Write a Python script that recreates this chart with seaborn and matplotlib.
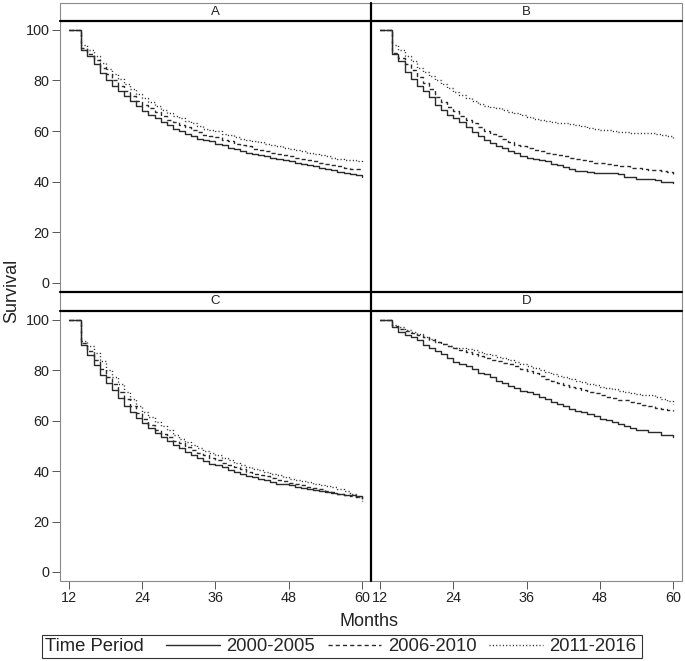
import pandas as pd
import matplotlib.pyplot as plt
import seaborn as sns
from matplotlib.lines import Line2D
from matplotlib.patches import Rectangle

# Kaplan-Meier survival, months 12..60
months = list(range(12, 61))
periods = ['2000-2005', '2006-2010', '2011-2016']
panels = ['A', 'B', 'C', 'D']

A_2000 = [100, 100, 92, 89.5, 86.5, 83, 80, 78, 76, 74, 72, 70, 68, 66.5, 65, 63.5, 62.5, 61, 60, 59, 58, 57, 56.5, 56, 55,
          54.5, 53.5, 53, 52, 51.5, 51, 50.5, 50, 49.5, 49, 48.5, 48, 47.5, 47, 46.5, 46, 45.5, 45, 44.5, 44, 43.5, 43, 42.5, 42]
A_2006 = [100, 100, 93, 90.5, 88, 85, 82.5, 80, 78, 76, 74, 72, 70.5, 69, 67.5, 66, 64.5, 63.5, 62.5, 61.5, 60.5, 59.5, 58.5, 58, 57.5,
          56.5, 56, 55, 54.5, 54, 53, 52.5, 52, 51.5, 51, 50.5, 50, 49.5, 49, 48.5, 48, 47.5, 47, 46.5, 46, 45.5, 45.2, 45, 44.5]
A_2011 = [100, 100, 94, 92, 89.5, 87, 84.5, 82.5, 80.5, 78.5, 76.5, 74.5, 73, 71.5, 70, 68.5, 67, 66, 65, 64, 63, 62, 61, 60.5, 60,
          59, 58.5, 57.5, 57, 56.5, 56, 55.5, 55, 54.5, 54, 53.5, 53, 52.5, 52, 51.5, 51, 50.5, 50, 49.5, 49, 48.5, 48.5, 48, 47.5]
B_2000 = [100, 100, 90.5, 87.5, 83.5, 80.5, 78, 76, 73.5, 70.5, 68.5, 66.5, 65, 63.5, 61.5, 59.5, 58, 56.5, 55.2, 54.2, 53.2, 52.3, 51.3, 50.3, 49.5,
          49, 48.5, 48, 47, 46.5, 45.7, 45, 44.3, 44.3, 44, 43.5, 43.4, 43.4, 43.4, 43, 42, 42, 41.1, 41.1, 41, 40.5, 40, 40, 39.4]
B_2006 = [100, 100, 91, 89, 86.5, 84, 81.5, 79, 76.5, 73.5, 71.5, 69.5, 68, 66, 64.5, 63, 61.5, 60, 59, 58, 57, 55.5, 54.5, 54, 53.2,
          52.5, 52, 51.5, 51, 50.5, 50, 49.5, 49, 48.5, 48, 47.5, 47.3, 47, 46.6, 46.3, 46, 45.6, 45.3, 45, 44.7, 44.5, 44.3, 43.8, 43]
B_2011 = [100, 100, 94, 92, 89.5, 87.5, 85, 83.3, 81.6, 80.2, 78.5, 77, 75.6, 74.3, 73, 72, 70.8, 70.1, 69.7, 69.3, 68.4, 67.7, 67.1, 66.4, 65.7,
          64.8, 64.2, 63.8, 63.5, 63.3, 63.1, 62.8, 62.5, 62, 61.4, 61, 60.5, 60.3, 60.1, 59.8, 59.6, 59.4, 59.2, 59.2, 59.2, 58.8, 58.5, 58, 57.2]
C_2000 = [100, 100, 90, 86, 82, 78, 75, 72, 69, 66, 63.5, 61, 59, 57, 55, 53.5, 52, 50.2, 49, 47.6, 46.5, 45.2, 44, 43, 42.3,
          41.6, 40.5, 39.7, 38.8, 38.2, 37.7, 37, 36.4, 35.7, 35, 34.7, 34.4, 33.8, 33.3, 32.8, 32.4, 32, 31.8, 31.5, 31.1, 30.7, 30.4, 30, 29.8]
C_2006 = [100, 100, 91, 87.5, 84, 80.5, 77.5, 74.5, 71.5, 68.5, 66, 63, 60.5, 58.3, 56.3, 54.8, 53.5, 52, 51, 49.5, 48.3, 47.2, 46.2, 45.2, 44.3,
          43.3, 42.3, 41.5, 40.7, 39.8, 39, 38.4, 37.9, 37.1, 36.4, 35.9, 35.4, 34.9, 34.4, 33.8, 33.3, 32.7, 32.1, 31.6, 31.1, 30.6, 30.2, 29.7, 29]
C_2011 = [100, 100, 91.5, 89.5, 87, 83.5, 80, 77.3, 74.6, 71.5, 68.6, 66, 63.4, 61.3, 59.4, 57.7, 56.1, 54.4, 52.8, 51.5, 50.2, 49, 47.8, 47, 46.2,
          45.2, 44.3, 43.4, 42.6, 41.8, 41, 40.3, 39.7, 39, 38.3, 37.6, 37, 36.5, 36.1, 35.5, 35, 34.5, 34.1, 33.5, 32.8, 32, 31.1, 29.8, 28.2]
D_2000 = [100, 100, 97, 95, 93.9, 93, 92.1, 90, 88.8, 87.7, 86.4, 84.7, 83.4, 82.5, 81.6, 80.5, 78.9, 78.5, 77.5, 75.9, 74.8, 73.9, 72.9, 71.9, 71.3,
          70.4, 69.3, 68.4, 67.3, 66.7, 65.7, 64.7, 64, 63.4, 62.5, 61.8, 60.7, 60.1, 59.4, 58.5, 57.7, 57, 56.4, 56.1, 55.5, 55.5, 54.4, 54.2, 53.5]
D_2006 = [100, 100, 97.5, 96.5, 95.7, 94.8, 93.9, 93, 92.1, 91.2, 90.4, 89.6, 88.8, 88, 87.2, 86.5, 85.8, 85, 84.2, 83.6, 83, 82.3, 81.5, 80.5, 79.6,
          78.8, 77.8, 76.6, 75.6, 74.9, 74.2, 73.4, 72.8, 72.2, 71.5, 70.8, 70.2, 69.4, 68.8, 68.3, 68, 67.5, 67.1, 66.4, 65.7, 65.2, 64.7, 64.2, 63.8]
D_2011 = [100, 100, 98, 97, 96, 95.2, 94.3, 93.3, 92.4, 91.4, 90.4, 89.7, 89, 88.8, 88.5, 88, 87.2, 86.5, 85.9, 85.4, 85, 84.2, 83.3, 82.5, 81.8,
          81, 80.2, 79.3, 78.6, 77.8, 77.2, 76.5, 75.8, 75.2, 74.7, 74, 73.5, 73, 72.5, 71.9, 71.3, 70.8, 70.4, 70.1, 70, 69.3, 68.6, 67.8, 66.8]

series = {
    'A': [A_2000, A_2006, A_2011],
    'B': [B_2000, B_2006, B_2011],
    'C': [C_2000, C_2006, C_2011],
    'D': [D_2000, D_2006, D_2011],
}

linhas = []
for p in panels:
    for per, vals in zip(periods, series[p]):
        for m, v in zip(months, vals):
            linhas.append({'panel': p, 'period': per, 'month': m, 'survival': v})
df = pd.DataFrame(linhas)

sns.set_style('white')
plt.rcParams['font.family'] = ['Liberation Sans', 'DejaVu Sans']

W, H = 685, 661
def fx(px):
    return px / W
def fy(py):
    return 1 - py / H

cor = '#2b2b2b'
dashes = {'2000-2005': '', '2006-2010': (3, 2.2), '2011-2016': (0.8, 1.6)}

g = sns.relplot(data=df, x='month', y='survival', col='panel', col_wrap=2, kind='line',
                style='period', style_order=periods, dashes=dashes, color=cor, linewidth=1.0,
                estimator=None, drawstyle='steps-post', legend=False, col_order=panels,
                height=3, aspect=1)
fig = g.figure
fig.set_size_inches(W / 100, H / 100)

pos = {
    'A': [fx(60), fy(292), 311 / W, 271 / H],
    'B': [fx(371), fy(292), 311 / W, 271 / H],
    'C': [fx(60), fy(581), 311 / W, 270 / H],
    'D': [fx(371), fy(581), 311 / W, 270 / H],
}

for p, ax in zip(panels, g.axes.flat):
    ax.set_position(pos[p])
    ax.set_title('')
    ax.set_xlabel('')
    ax.set_ylabel('')
    ax.set_xlim(10.5, 61.5)
    ax.set_ylim(-3.6, 103.5)
    ax.set_xticks([12, 24, 36, 48, 60])
    ax.set_yticks([0, 20, 40, 60, 80, 100])
    for s in ax.spines.values():
        s.set_visible(False)
    ax.tick_params(direction='out', length=5.5, width=0.7, color='#555555',
                   labelsize=10.4, labelcolor='#222222', pad=2)
    esquerda = p in ('A', 'C')
    baixo = p in ('C', 'D')
    ax.tick_params(axis='y', left=esquerda, labelleft=esquerda)
    ax.tick_params(axis='x', bottom=baixo, labelbottom=baixo)

# outer thin frame
fig.add_artist(Rectangle((fx(60), fy(581)), 622 / W, 578 / H, transform=fig.transFigure,
                         fill=False, edgecolor='#8a8a8a', linewidth=0.8))
# thick panel dividers
for yy in (21, 292, 311):
    fig.add_artist(Line2D([fx(60), fx(682)], [fy(yy), fy(yy)], transform=fig.transFigure,
                          color='black', linewidth=1.6))
fig.add_artist(Line2D([fx(371), fx(371)], [fy(3), fy(581)], transform=fig.transFigure,
                      color='black', linewidth=1.6))

# strip labels
for p, (cx, cy) in zip(panels, [(215.5, 12), (526.5, 12), (215.5, 301.5), (526.5, 301.5)]):
    fig.text(fx(cx), fy(cy), p, ha='center', va='center', fontsize=9.5, color='#222222')

fig.text(fx(12), fy(291), 'Survival', rotation=90, ha='center', va='center', fontsize=13, color='#222222')
fig.text(fx(369), fy(622), 'Months', ha='center', va='center', fontsize=13, color='#222222')

# legend
fig.add_artist(Rectangle((fx(42), fy(658)), 600 / W, 23 / H, transform=fig.transFigure,
                         fill=False, edgecolor='#333333', linewidth=0.8))
fig.text(fx(45), fy(646.5), 'Time Period', ha='left', va='center', fontsize=13.3, color='#222222')
handles = [Line2D([], [], color=cor, linewidth=1.0, linestyle='-'),
           Line2D([], [], color=cor, linewidth=1.0, dashes=dashes['2006-2010']),
           Line2D([], [], color=cor, linewidth=1.0, dashes=dashes['2011-2016'])]
fig.legend(handles, periods, ncol=3, loc='center left', bbox_to_anchor=(fx(166), fy(646.5)),
           frameon=False, fontsize=13.3, handlelength=2.9, handletextpad=0.35,
           columnspacing=0.7, borderpad=0, borderaxespad=0)

fig.savefig('out.png', dpi=100)
plt.close()
